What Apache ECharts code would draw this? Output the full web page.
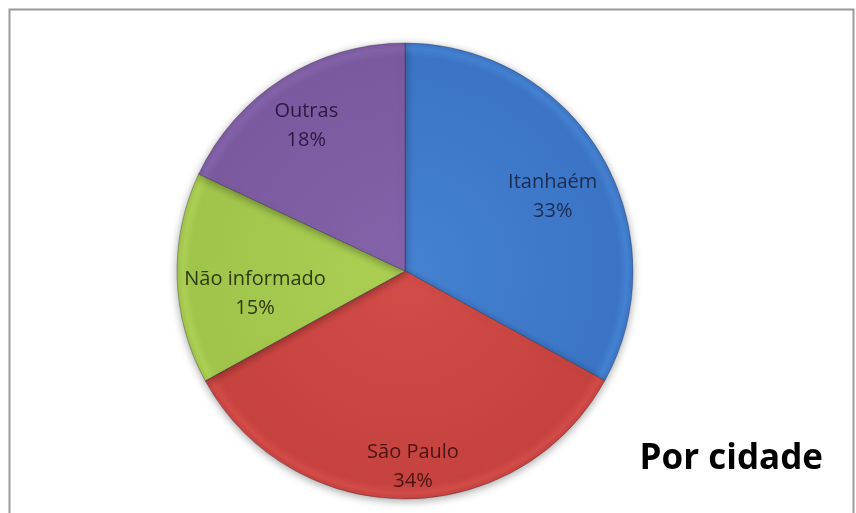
<!DOCTYPE html>
<html>
<head>
<meta charset="utf-8">
<script src="https://cdn.jsdelivr.net/npm/echarts@6/dist/echarts.min.js"></script>
<style>
  html, body { margin: 0; padding: 0; background: #fff; }
  #main { width: 856px; height: 513px; }
</style>
</head>
<body>
<div id="main"></div>
<script>
// dados do gráfico
const categorias = ["Itanhaém", "São Paulo", "Não informado", "Outras"];
const valores = [33, 34, 15, 18];
const cores = ["#3b74c4", "#c6423f", "#a0c34a", "#7a599e"];
const coresClaras = ["#4582d2", "#d24c48", "#acd054", "#8563aa"];
const coresTexto = ["#1c2c50", "#4a1412", "#2d3b0e", "#2a1a42"];
// deslocamento dos rótulos em relação à posição padrão "inside"
const offsets = [[47, -15], [8, 79], [-33, 19], [-36, -46]];

const centro = [405, 271];
const raio = 228;

const chartDom = document.getElementById("main");
const myChart = echarts.init(chartDom);

const option = {
  animation: false,
  backgroundColor: "#ffffff",
  title: {
    text: "Por cidade",
    right: 28,
    top: 437,
    textStyle: {
      fontFamily: "Open Sans",
      fontWeight: "bold",
      fontSize: 35,
      color: "#000",
    },
  },
  graphic: [
    {
      type: "rect",
      left: 7,
      top: 7,
      shape: { width: 844, height: 520 },
      style: { fill: "none", stroke: "#9a9a9a", lineWidth: 2 },
      silent: true,
    },
  ],
  series: [
    {
      type: "pie",
      center: centro,
      radius: [0, raio],
      startAngle: 90,
      clockwise: true,
      avoidLabelOverlap: false,
      itemStyle: {
        borderColor: "rgba(40,40,60,0.35)",
        borderWidth: 1,
        shadowBlur: 8,
        shadowColor: "rgba(0,0,0,0.35)",
        shadowOffsetY: 2,
      },
      label: {
        show: true,
        position: "inside",
        formatter: "{b}\n{d}%",
        fontFamily: "Open Sans",
        fontSize: 20,
        lineHeight: 29,
        align: "center",
      },
      labelLine: { show: false },
      data: categorias.map((nome, i) => ({
        name: nome,
        value: valores[i],
        itemStyle: {
          color: {
            type: "radial",
            x: centro[0],
            y: centro[1],
            r: raio,
            global: true,
            colorStops: [
              { offset: 0, color: coresClaras[i] },
              { offset: 0.94, color: cores[i] },
              { offset: 0.975, color: coresClaras[i] },
              { offset: 1, color: cores[i] },
            ],
          },
        },
        label: {
          color: coresTexto[i],
          offset: offsets[i],
        },
      })),
    },
  ],
};

myChart.setOption(option);
</script>
</body>
</html>
